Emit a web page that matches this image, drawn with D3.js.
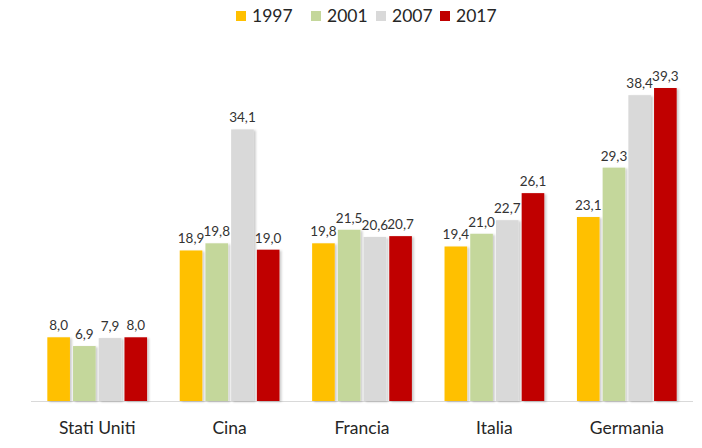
<!DOCTYPE html>
<html><head><meta charset="utf-8">
<script src="https://cdn.jsdelivr.net/npm/d3@7"></script>
<style>body{margin:0;background:#fff;} svg{display:block;font-family:Lato, "Open Sans", sans-serif;}</style>
</head><body>
<svg id="c" width="702" height="448"></svg>
<script>
const categories = ["Stati Uniti","Cina","Francia","Italia","Germania"];
const seriesNames = ["1997","2001","2007","2017"];
const v1997 = [8.0,18.9,19.8,19.4,23.1];
const v2001 = [6.9,19.8,21.5,21.0,29.3];
const v2007 = [7.9,34.1,20.6,22.7,38.4];
const v2017 = [8.0,19.0,20.7,26.1,39.3];
const colors = ["#FFC000","#C4D79B","#D9D9D9","#C00000"];
const series = [v1997,v2001,v2007,v2017];

const svg = d3.select("#c");
const defs = svg.append("defs");
const f = defs.append("filter").attr("id","sh").attr("x","-20%").attr("y","-5%").attr("width","150%").attr("height","110%");
f.append("feDropShadow").attr("dx",2).attr("dy",1).attr("stdDeviation",1.2).attr("flood-color","#000").attr("flood-opacity",0.2);

const baseY = 401;
const x0 = d3.scaleBand().domain(categories).range([31,693]).paddingInner(0.2).paddingOuter(0.1);
const x1 = d3.scaleBand().domain(seriesNames).range([0,x0.bandwidth()]).padding(0.12);
const y = d3.scaleLinear().domain([0,39.3]).range([baseY,88]);

svg.append("line").attr("x1",31).attr("x2",693).attr("y1",baseY+0.5).attr("y2",baseY+0.5).attr("stroke","#D9D9D9").attr("stroke-width",1);

const fmt = d => d.toFixed(1).replace(".",",");
categories.forEach((c,i)=>{
  const g = svg.append("g").attr("transform",`translate(${x0(c)},0)`);
  seriesNames.forEach((s,j)=>{
    const v = series[j][i];
    g.append("rect").attr("x",x1(s)).attr("y",y(v)).attr("width",x1.bandwidth()).attr("height",baseY-y(v))
      .attr("fill",colors[j]).attr("filter","url(#sh)");
    g.append("text").attr("x",x1(s)+x1.bandwidth()/2).attr("y",y(v)-7).attr("text-anchor","middle")
      .attr("font-size",13.5).attr("fill","#333").text(fmt(v));
  });
});

const xAxis = svg.append("g").attr("transform",`translate(0,${baseY})`).call(d3.axisBottom(x0).tickSize(0).tickPadding(21));
xAxis.select(".domain").remove();
xAxis.selectAll("text").attr("font-size",17.5).attr("fill","#262626").attr("font-family","Lato, 'Open Sans', sans-serif");

const leg = svg.append("g");
seriesNames.forEach((s,j)=>{
  const lx = [236,311,376,440][j];
  leg.append("rect").attr("x",lx).attr("y",11).attr("width",10).attr("height",10).attr("fill",colors[j]);
  leg.append("text").attr("x",lx+16).attr("y",22).attr("font-size",17.5).attr("fill","#262626").text(s);
});
</script>
</body></html>
